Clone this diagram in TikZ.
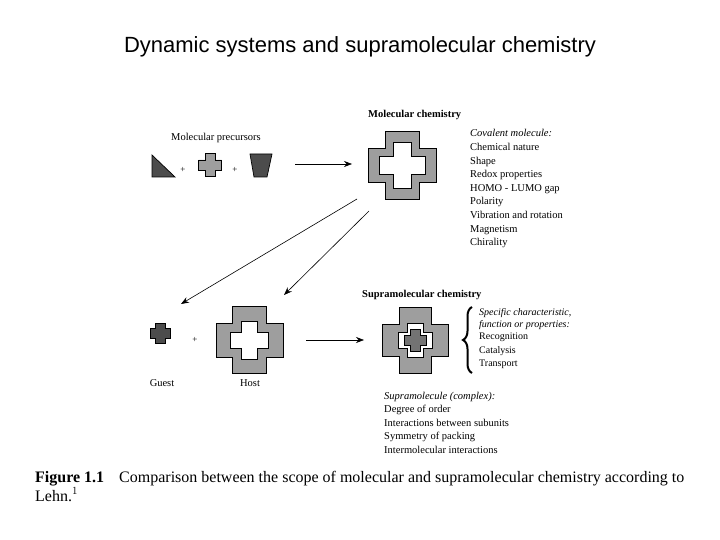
\documentclass[tikz,border=0pt]{standalone}
\usepackage{fontspec}
\usetikzlibrary{arrows.meta,decorations.pathreplacing}
\setmainfont{Liberation Serif}
\newfontfamily\sansf{Liberation Sans}
\begin{document}
\begin{tikzpicture}[x=1pt,y=-1pt,
  lbl/.style={anchor=base west,inner sep=0pt,font=\fontsize{10.5}{12}\selectfont},
  slbl/.style={anchor=base west,inner sep=0pt,font=\fontsize{10}{11}\selectfont},
  arr/.style={-{Stealth[length=8pt,width=6pt]},line width=0.6pt},
  light/.style={fill=black!38,draw=black,line width=0.7pt},
  dark/.style={fill=black!70,draw=black,line width=0.7pt},
  hole/.style={fill=white,draw=black,line width=0.7pt}]
\def\xc#1#2#3#4{({#1-#4},{#2-#3}) -- ({#1+#4},{#2-#3}) -- ({#1+#4},{#2-#4}) -- ({#1+#3},{#2-#4}) -- ({#1+#3},{#2+#4}) -- ({#1+#4},{#2+#4}) -- ({#1+#4},{#2+#3}) -- ({#1-#4},{#2+#3}) -- ({#1-#4},{#2+#4}) -- ({#1-#3},{#2+#4}) -- ({#1-#3},{#2-#4}) -- ({#1-#4},{#2-#4}) -- cycle}
\useasboundingbox (0,0) rectangle (720,540);
\node (title) at (360,47) {\sansf\fontsize{22}{26}\selectfont Dynamic systems and supramolecular chemistry};
% precursors
\node[lbl] (mp) at (171,141) {Molecular precursors};
\draw[dark] (152,155) -- (152,177) -- (175,177) -- cycle;
\node (p1) at (183,170) {\fontsize{9}{10}\selectfont +};
\draw[light] \xc{210}{165}{11.5}{5};
\node (p2) at (235,170) {\fontsize{9}{10}\selectfont +};
\draw[dark] (250,154) -- (272,154) -- (267,177) -- (254,177) -- cycle;
% molecular chemistry
\node[lbl,font=\fontsize{10.5}{12}\selectfont\bfseries] (mc) at (368,118) {Molecular chemistry};
\draw[light] \xc{402}{165.5}{34}{17};
\draw[hole] \xc{402}{165.5}{23}{9};
\coordinate (a1s) at (295,164); \coordinate (a1e) at (352,164);
\draw[arr] (a1s) -- (a1e);
\node[lbl,font=\fontsize{10.5}{12}\selectfont\itshape] (cm) at (470,137) {Covalent molecule:};
\foreach \t [count=\i] in {Chemical nature,Shape,Redox properties,HOMO - LUMO gap,Polarity,Vibration and rotation,Magnetism,Chirality}
  \node[lbl] (c\i) at (470,{137+13.6*\i}) {\t};
% diagonal arrows
\coordinate (d1s) at (357,199); \coordinate (d1e) at (181,304);
\coordinate (d2s) at (369,211); \coordinate (d2e) at (284,295);
\draw[arr] (d1s) -- (d1e);
\draw[arr] (d2s) -- (d2e);
% guest + host
\draw[dark] \xc{160}{333}{10}{5};
\node (p3) at (195,340) {\fontsize{9}{10}\selectfont +};
\draw[light] \xc{249.5}{340}{33.5}{17};
\draw[hole] \xc{249.5}{340}{19}{8};
\node[lbl,anchor=base] (guest) at (162,386) {Guest};
\node[lbl,anchor=base] (host) at (250,386) {Host};
\coordinate (a2s) at (306,340); \coordinate (a2e) at (364,340);
\draw[arr] (a2s) -- (a2e);
% supramolecule
\node[lbl,font=\fontsize{10.5}{12}\selectfont\bfseries] (sc) at (362,297) {Supramolecular chemistry};
\draw[light] \xc{415}{340}{33}{16};
\draw[hole] \xc{415}{340}{17}{8};
\draw[dark,fill=black!55] \xc{415}{340}{11}{5};
\coordinate (bt) at (472,307); \coordinate (bb) at (472,373);
\draw[decorate,decoration={brace,amplitude=9pt},line width=2pt] (bb) -- (bt);
\node[slbl,font=\fontsize{10}{11}\selectfont\itshape] (s1) at (479,315) {Specific characteristic,};
\node[slbl,font=\fontsize{10}{11}\selectfont\itshape] (s2) at (479,327) {function or properties:};
\node[slbl] (s3) at (479,339.5) {Recognition};
\node[slbl] (s4) at (479,353) {Catalysis};
\node[slbl] (s5) at (479,366.5) {Transport};
\node[lbl,font=\fontsize{10.5}{12}\selectfont\itshape] (sm) at (384,399) {Supramolecule (complex):};
\foreach \t [count=\i] in {Degree of order,Interactions between subunits,Symmetry of packing,Intermolecular interactions}
  \node[lbl] (m\i) at (384,{399+13.5*\i}) {\t};
% caption
\node[anchor=base west,inner sep=0pt,font=\fontsize{16}{18}\selectfont\bfseries] (fig) at (35,482) {Figure 1.1};
\node[anchor=base west,inner sep=0pt,font=\fontsize{16}{18}\selectfont] (cap) at (119,482) {Comparison between the scope of molecular and supramolecular chemistry according to};
\node[anchor=base west,inner sep=0pt,font=\fontsize{16}{18}\selectfont] (cap2) at (35,501) {Lehn.$^1$};
\end{tikzpicture}
\end{document}
